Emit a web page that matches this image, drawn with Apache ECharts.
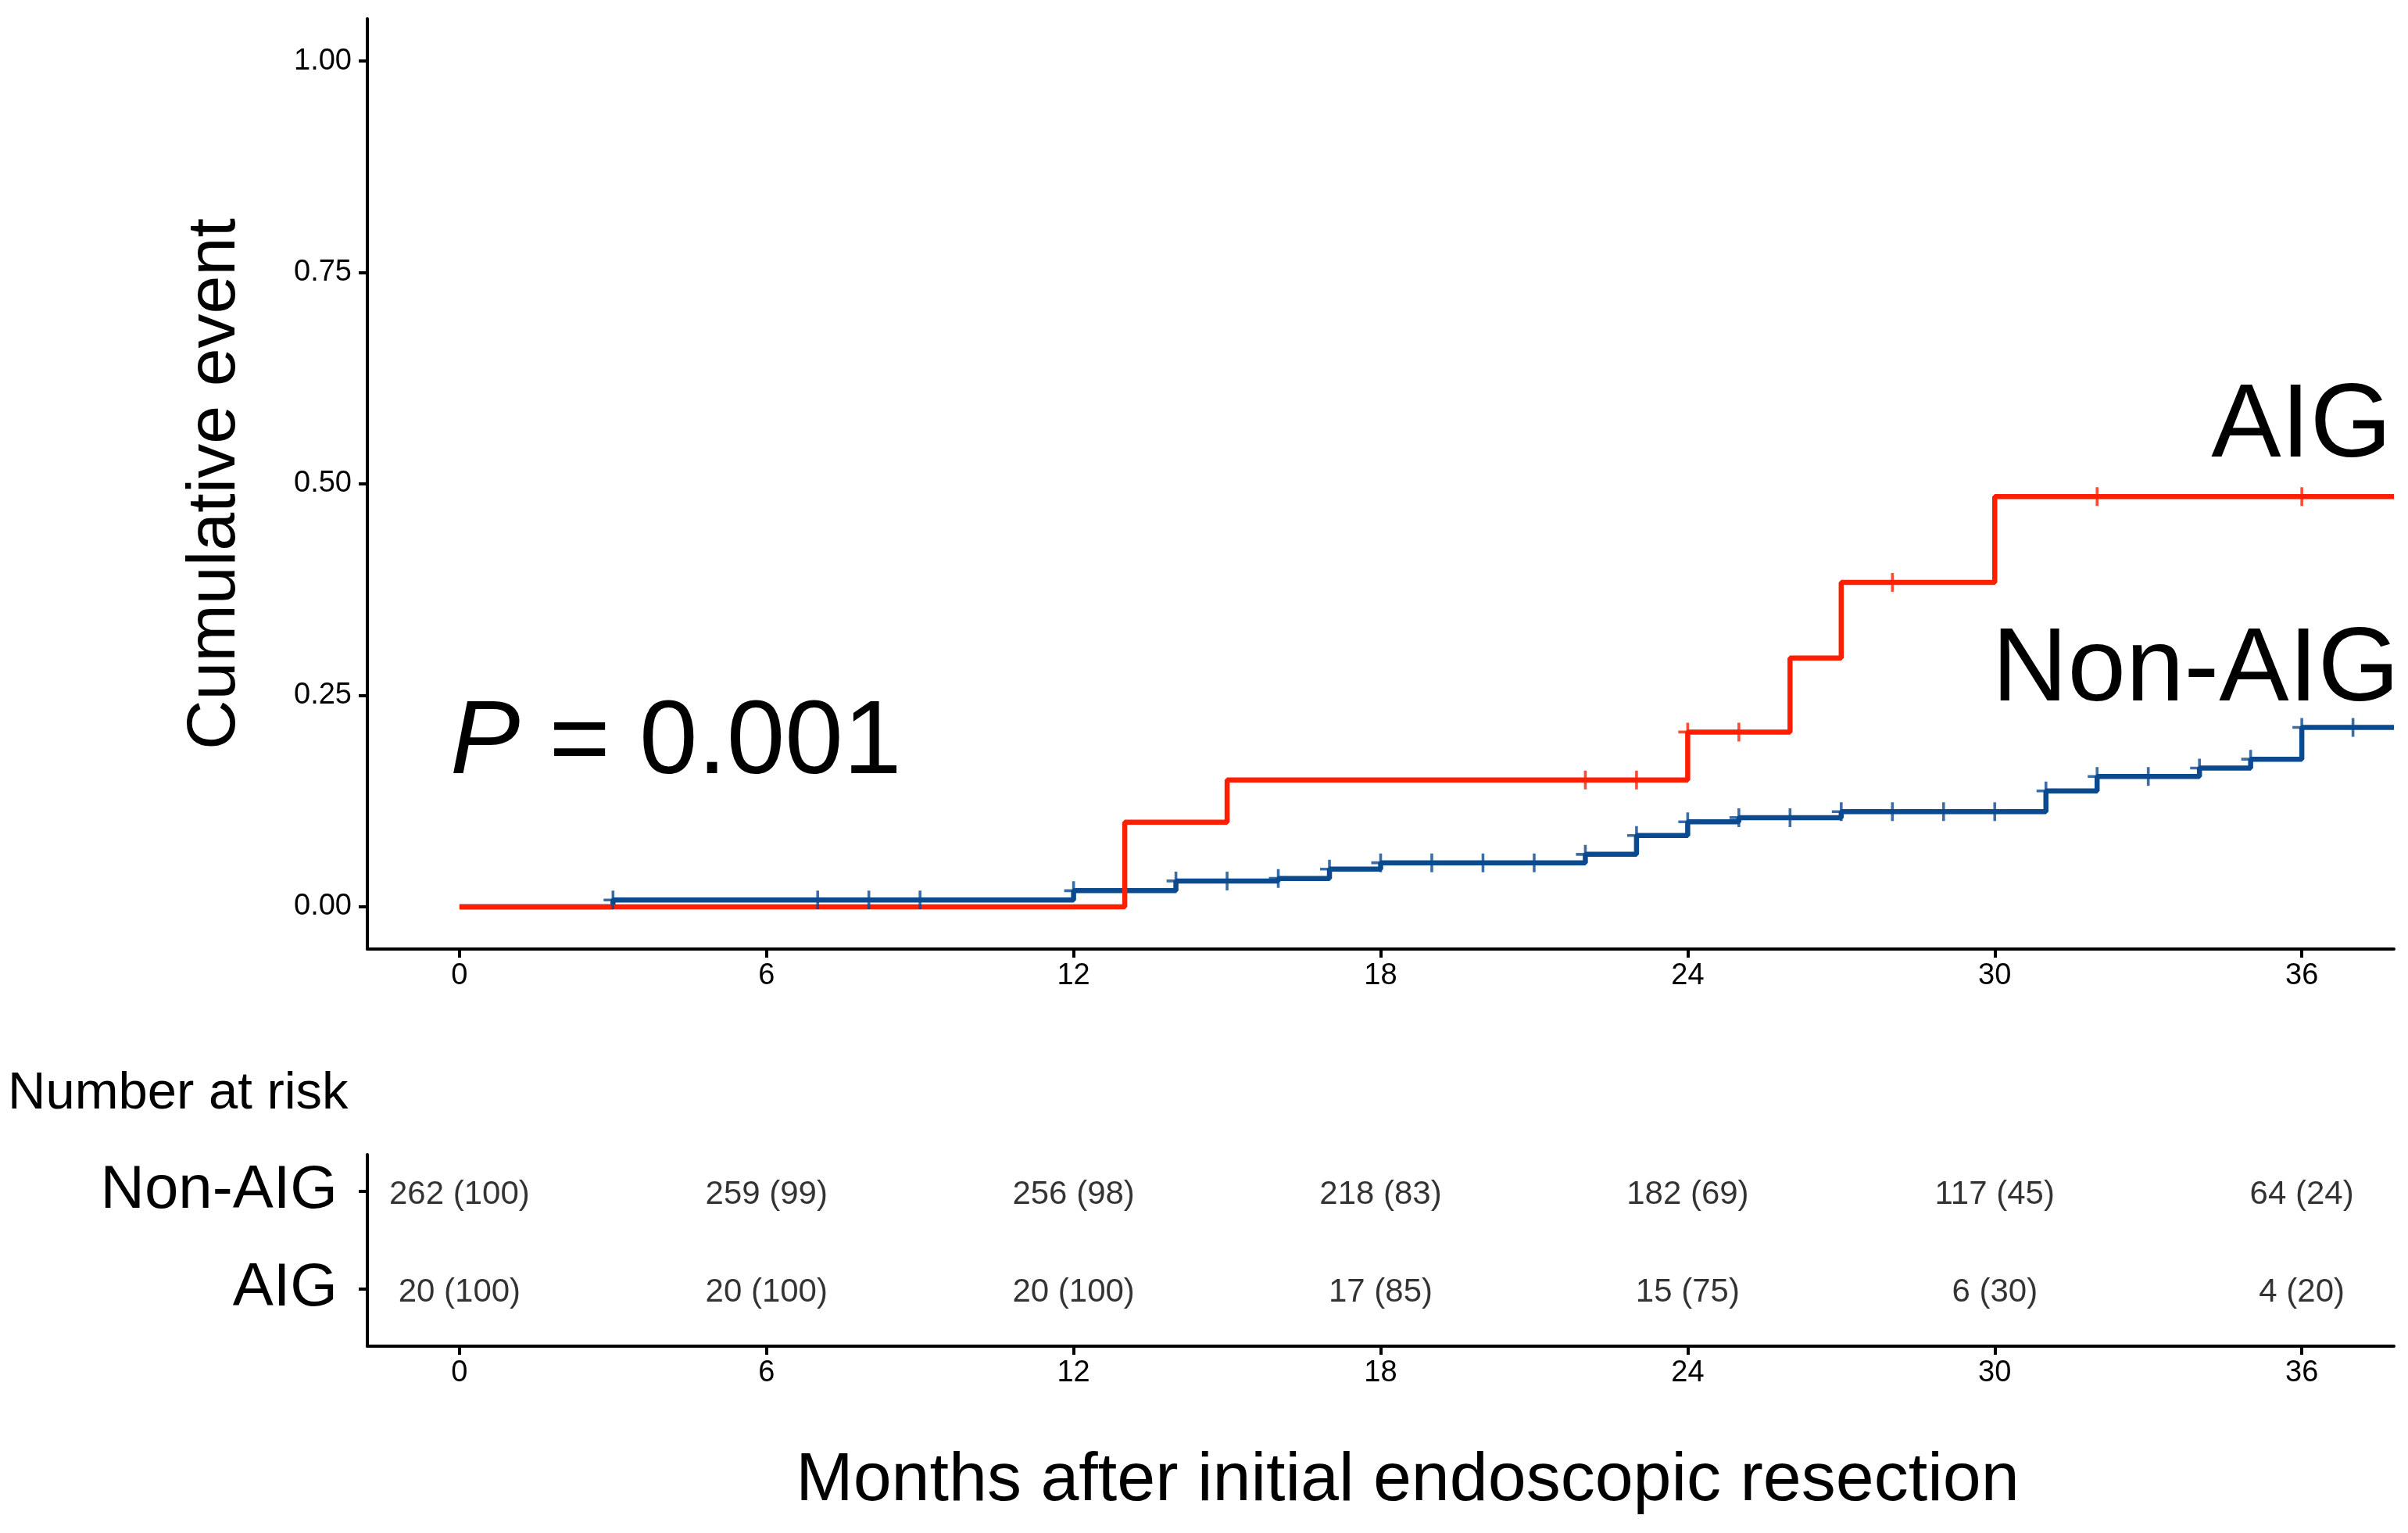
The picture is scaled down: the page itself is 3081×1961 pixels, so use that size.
<!DOCTYPE html>
<html>
<head>
<meta charset="utf-8">
<script src="https://cdn.jsdelivr.net/npm/echarts@6/dist/echarts.min.js"></script>
<style>html,body{margin:0;padding:0;background:#fff;}#c{width:3081px;height:1961px;}</style>
</head>
<body>
<div id="c"></div>
<script>
// ---- data ----
const xTicks = [0, 6, 12, 18, 24, 30, 36];
const yTicks = [0, 0.25, 0.5, 0.75, 1.0];

// Non-AIG cumulative event curve: [month, value]
const nonAigCurve = [[0,0],[3,0.008],[12,0.019],[14,0.0305],[16,0.0335],[17,0.0445],[18,0.052],[22,0.062],[23,0.0843],[24,0.1004],[25,0.1054],[27,0.1124],[31,0.137],[32,0.154],[34,0.164],[35,0.1745],[36,0.212],[37.8,0.212]];
// AIG cumulative event curve
const aigCurve = [[0,0],[13,0.10],[15,0.15],[24,0.2066],[26,0.294],[27,0.3836],[30,0.485],[37.8,0.485]];

// censoring times
const nonAigCensor = [3,7,8,9,12,14,15,16,17,18,19,20,21,22,23,24,25,26,27,28,29,30,31,32,33,34,35,36,37];
const aigCensor = [22,23,24,25,28,32,36];

// number at risk table
const riskTimes = [0, 6, 12, 18, 24, 30, 36];
const nonAigAtRisk = [262, 259, 256, 218, 182, 117, 64];
const nonAigPct = [100, 99, 98, 83, 69, 45, 24];
const aigAtRisk = [20, 20, 20, 17, 15, 6, 4];
const aigPct = [100, 100, 100, 85, 75, 30, 20];
const riskRows = ['AIG', 'Non-AIG']; // row 1, row 2

// ---- helpers ----
function stepValue(curve, t) {
  let v = curve[0][1];
  for (const p of curve) { if (p[0] <= t) v = p[1]; }
  return v;
}
const FONT = "'Liberation Sans', Arial, Helvetica, sans-serif";
const BLUE = '#0b4a8f';
const RED = '#ff1f00';
const PLUS = 'path://M-1.5,-10 L1.5,-10 L1.5,-1.5 L10,-1.5 L10,1.5 L1.5,1.5 L1.5,10 L-1.5,10 L-1.5,1.5 L-10,1.5 L-10,-1.5 L-1.5,-1.5 Z';

const riskData = [];
riskTimes.forEach((t, i) => {
  riskData.push([t, 2, nonAigAtRisk[i] + ' (' + nonAigPct[i] + ')']);
  riskData.push([t, 1, aigAtRisk[i] + ' (' + aigPct[i] + ')']);
});

const axisLineStyle = { color: '#000', width: 4 };
function xAxisDef(gi) {
  return {
    gridIndex: gi, type: 'value', min: -1.8, max: 37.8,
    axisLine: { show: true, onZero: false, lineStyle: axisLineStyle },
    axisTick: { show: true, length: 11, customValues: xTicks, lineStyle: axisLineStyle },
    axisLabel: { customValues: xTicks, fontSize: 38, color: '#000', margin: 16, fontFamily: FONT },
    splitLine: { show: false }
  };
}

const chart = echarts.init(document.getElementById('c'), null, { renderer: 'canvas' });
chart.setOption({
  animation: false,
  backgroundColor: '#fff',
  grid: [
    { left: 470, right: 18, top: 24, height: 1190 },
    { left: 470, right: 18, top: 1477, height: 245 }
  ],
  xAxis: [xAxisDef(0), xAxisDef(1)],
  yAxis: [
    {
      gridIndex: 0, type: 'value', min: -0.05, max: 1.05,
      axisLine: { show: true, onZero: false, lineStyle: axisLineStyle },
      axisTick: { show: true, length: 11, customValues: yTicks, lineStyle: axisLineStyle },
      axisLabel: { customValues: yTicks, fontSize: 38, color: '#000', margin: 20, fontFamily: FONT,
        formatter: v => Number(v).toFixed(2) },
      splitLine: { show: false },
      name: 'Cumulative event', nameLocation: 'middle', nameGap: 150, nameRotate: 90,
      nameTextStyle: { fontSize: 88, color: '#000', fontFamily: FONT }
    },
    {
      gridIndex: 1, type: 'value', min: 0.41, max: 2.37,
      axisLine: { show: true, onZero: false, lineStyle: axisLineStyle },
      axisTick: { show: true, length: 11, customValues: [1, 2], lineStyle: axisLineStyle },
      axisLabel: { customValues: [1, 2], fontSize: 78, color: '#000', margin: 38, fontFamily: FONT,
        padding: [12, 0, 0, 0],
        formatter: v => riskRows[Math.round(v) - 1] },
      splitLine: { show: false }
    }
  ],
  series: [
    { name: 'Non-AIG', type: 'line', step: 'end', data: nonAigCurve, showSymbol: false, symbol: 'none',
      lineStyle: { color: BLUE, width: 6.5 }, z: 2, xAxisIndex: 0, yAxisIndex: 0 },
    { name: 'AIG', type: 'line', step: 'end', data: aigCurve, showSymbol: false, symbol: 'none',
      lineStyle: { color: RED, width: 6.5 }, z: 3, xAxisIndex: 0, yAxisIndex: 0 },
    { name: 'Non-AIG censor', type: 'scatter', symbol: PLUS, symbolSize: 24,
      data: nonAigCensor.map(t => [t, stepValue(nonAigCurve, t)]),
      itemStyle: { color: BLUE }, z: 4, xAxisIndex: 0, yAxisIndex: 0 },
    { name: 'AIG censor', type: 'scatter', symbol: PLUS, symbolSize: 24,
      data: aigCensor.map(t => [t, stepValue(aigCurve, t)]),
      itemStyle: { color: RED }, z: 5, xAxisIndex: 0, yAxisIndex: 0 },
    { name: 'risk', type: 'scatter', symbolSize: 1, itemStyle: { color: 'rgba(0,0,0,0)' },
      data: riskData, xAxisIndex: 1, yAxisIndex: 1,
      label: { show: true, position: 'inside', offset: [0, 5], formatter: p => p.data[2], fontSize: 42, color: '#000',
        fontFamily: FONT, align: 'center', verticalAlign: 'middle' } }
  ],
  graphic: [
    { type: 'text', x: 576, y: 952, z: 10,
      style: { text: '{i|P}{n| = 0.001}', align: 'left', verticalAlign: 'middle',
        rich: { i: { fontSize: 134, fontStyle: 'italic', fontFamily: FONT, fill: '#000' },
                n: { fontSize: 134, fontFamily: FONT, fill: '#000' } } } },
    { type: 'text', x: 3060, y: 547, z: 10,
      style: { text: 'AIG', fontSize: 134, fontFamily: FONT, fill: '#000', align: 'right', verticalAlign: 'middle' } },
    { type: 'text', x: 3070, y: 859, z: 10,
      style: { text: 'Non-AIG', fontSize: 134, fontFamily: FONT, fill: '#000', align: 'right', verticalAlign: 'middle' } },
    { type: 'text', x: 10, y: 1400, z: 10,
      style: { text: 'Number at risk', fontSize: 67, fontFamily: FONT, fill: '#000', align: 'left', verticalAlign: 'middle' } },
    { type: 'text', x: 1801, y: 1895, z: 10,
      style: { text: 'Months after initial endoscopic resection', fontSize: 88, fontFamily: FONT, fill: '#000', align: 'center', verticalAlign: 'middle' } }
  ]
});
</script>
</body>
</html>
